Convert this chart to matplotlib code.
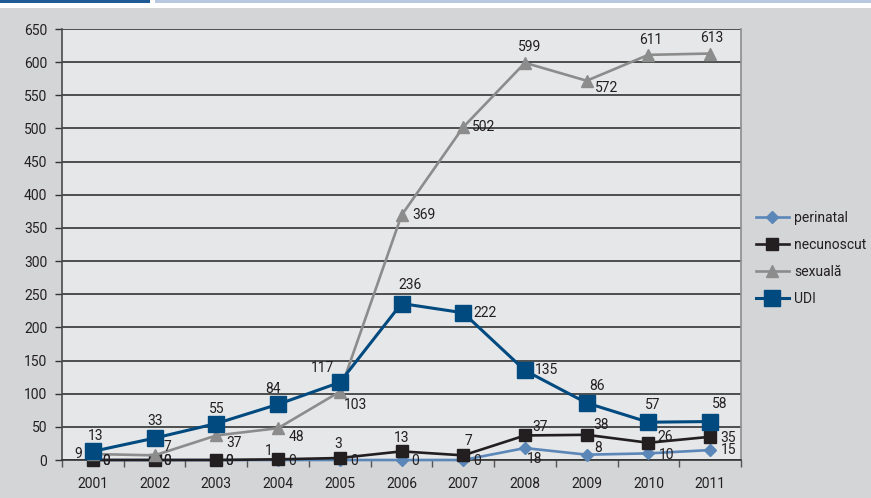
import matplotlib
matplotlib.use('Agg')
import matplotlib.pyplot as plt
from matplotlib.patches import Rectangle
from matplotlib.ticker import MultipleLocator, FixedLocator

years = ['2001', '2002', '2003', '2004', '2005', '2006', '2007', '2008', '2009', '2010', '2011']
perinatal = [0, 0, 0, 0, 0, 0, 0, 18, 8, 10, 15]
necunoscut = [0, 0, 0, 1, 3, 13, 7, 37, 38, 26, 35]
sexuala = [9, 7, 37, 48, 103, 369, 502, 599, 572, 611, 613]
udi = [13, 33, 55, 84, 117, 236, 222, 135, 86, 57, 58]

# label offsets in pixels (dx, dy) for each point
off_perinatal = [(13, -1)] * 3 + [(14, -1)] * 4 + [(10, -11), (11, 7), (18, -2), (18, 0)]
off_necunoscut = [(13, -1), (13, -1), (13, -1), (-9, 8), (-2, 14), (0, 13), (5, 14),
                  (15, 8), (14, 10), (17, 6), (18, -1)]
off_sexuala = [(-15, 0), (13, 8), (18, -8), (18, -9), (16, -13), (22, 0), (20, 0),
               (5, 16), (20, -7), (2, 15), (2, 16)]
off_udi = [(3, 15), (0, 17), (0, 15), (-5, 15), (-17, 14), (8, 19), (22, 0),
           (22, 0), (10, 17), (4, 17), (10, 18)]

plt.rcParams['font.family'] = ['Roboto', 'DejaVu Sans']
txt = '#231f20'
fs = 10

fig = plt.figure(figsize=(8.71, 4.98), dpi=100, facecolor='#d4d5d7')
ax = fig.add_axes([62 / 871, 1 - 460 / 498, 679 / 871, 431 / 498])
ax.set_facecolor('#e6e7e9')

# header band
fig.patches.append(Rectangle((0, 490 / 498), 1, 8 / 498, transform=fig.transFigure,
                             facecolor='white', edgecolor='none'))
fig.patches.append(Rectangle((0, 495 / 498), 150 / 871, 3 / 498, transform=fig.transFigure,
                             facecolor='#1f5a96', edgecolor='none'))
fig.patches.append(Rectangle((155 / 871, 495 / 498), 716 / 871, 3 / 498, transform=fig.transFigure,
                             facecolor='#b8c8e0', edgecolor='none'))

x = list(range(len(years)))
series = [
    ('perinatal', perinatal, '#5b87b8', 'D', 6.5, 1.9, off_perinatal),
    ('necunoscut', necunoscut, '#231f20', 's', 8, 1.9, off_necunoscut),
    ('sexuală', sexuala, '#8c8c8c', '^', 8.5, 1.9, off_sexuala),
    ('UDI', udi, '#004a80', 's', 11, 2.2, off_udi),
]
for z, (name, vals, col, mk, ms, lw, offs) in enumerate(series):
    ax.plot(x, vals, color=col, marker=mk, markersize=ms, linewidth=lw,
            label=name, zorder=3 + z, clip_on=False)
    for xi, v, (dx, dy) in zip(x, vals, offs):
        ax.annotate(str(v), (xi, v), xytext=(dx, dy), textcoords='offset pixels',
                    ha='center', va='center', fontsize=fs, color=txt, zorder=10)

ax.set_xlim(-0.5, len(years) - 0.5)
ax.set_ylim(0, 650)
ax.yaxis.set_major_locator(MultipleLocator(50))
ax.grid(axis='y', color='#333333', linewidth=1.2)
ax.set_axisbelow(True)

ax.set_xticks(x)
ax.set_xticklabels(years)
ax.xaxis.set_minor_locator(FixedLocator([i + 0.5 for i in range(-1, len(years))]))
ax.tick_params(axis='x', which='major', length=0, pad=12, labelsize=fs, labelcolor=txt)
ax.tick_params(axis='x', which='minor', length=5, width=1, color='#555555', direction='out')
ax.tick_params(axis='y', length=5, width=1, color='#333333', pad=5.5, labelsize=fs, labelcolor=txt)

ax.spines['top'].set_visible(False)
ax.spines['left'].set_color('#4a4a4a')
ax.spines['left'].set_linewidth(1.2)
ax.spines['bottom'].set_color('#333333')
ax.spines['bottom'].set_linewidth(1.2)
ax.spines['right'].set_color('#8c8c8c')
ax.spines['right'].set_linewidth(1.2)

fig.legend(loc='upper left', bbox_to_anchor=(750 / 871, 1 - 205 / 498), frameon=False,
           fontsize=fs, handlelength=2.4, handletextpad=0.4, labelspacing=0.95,
           labelcolor=txt, borderaxespad=0)

fig.savefig('out.png', dpi=100, facecolor=fig.get_facecolor())
